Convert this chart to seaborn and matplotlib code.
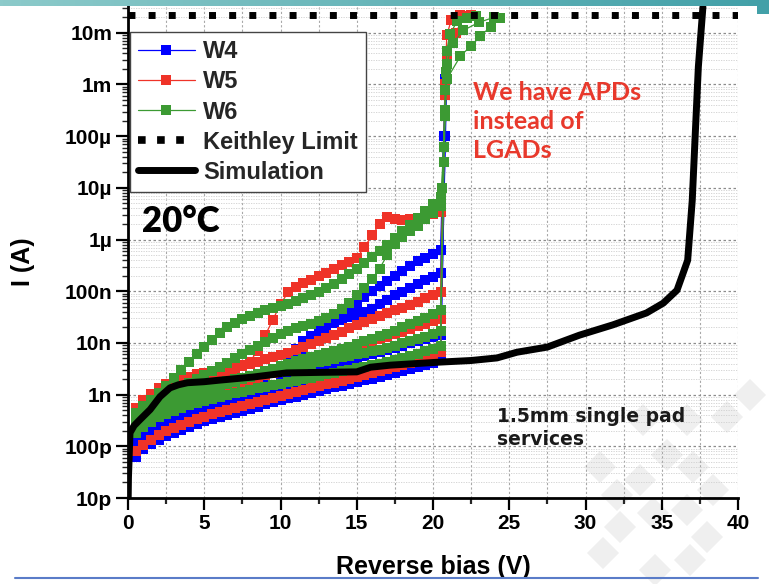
import numpy as np
import pandas as pd
import seaborn as sns
import matplotlib.pyplot as plt
from matplotlib.lines import Line2D
from matplotlib.patches import Polygon, Rectangle
from matplotlib.ticker import FixedLocator, FixedFormatter, MultipleLocator, LogLocator, NullFormatter

# ---------------------------------------------------------------- data
# Reverse-bias sweep points (V) shared by all measured pads
BIAS_V = [0.5, 1.0, 1.5, 2.0, 2.5, 3.0, 3.5, 4.0, 4.5, 5.0,
          5.5, 6.0, 6.5, 7.0, 7.5, 8.0, 8.5, 9.0, 9.5, 10.0,
          10.5, 11.0, 11.5, 12.0, 12.5, 13.0, 13.5, 14.0, 14.5, 15.0,
          15.5, 16.0, 16.5, 17.0, 17.5, 18.0, 18.5, 19.0, 19.5, 20.0,
          20.5]

# log10 of leakage current (A) per pad, before breakdown
W4_A = [-10.20, -10.05, -9.95, -9.87, -9.80, -9.74, -9.68, -9.62, -9.56, -9.51,
        -9.47, -9.43, -9.39, -9.35, -9.31, -9.27, -9.23, -9.19, -9.15, -9.11,
        -9.07, -9.04, -9.00, -8.97, -8.93, -8.90, -8.86, -8.83, -8.79, -8.76,
        -8.72, -8.69, -8.65, -8.62, -8.58, -8.55, -8.51, -8.47, -8.43, -8.38,
        -8.32]
W4_B = [-10.05, -9.88, -9.77, -9.69, -9.62, -9.56, -9.50, -9.44, -9.39, -9.34,
        -9.30, -9.26, -9.22, -9.18, -9.14, -9.10, -9.06, -9.02, -8.98, -8.94,
        -8.90, -8.86, -8.83, -8.79, -8.76, -8.72, -8.69, -8.65, -8.62, -8.58,
        -8.55, -8.51, -8.48, -8.44, -8.41, -8.37, -8.34, -8.30, -8.26, -8.21,
        -8.15]
W4_C = [-9.95, -9.80, -9.70, -9.62, -9.55, -9.49, -9.43, -9.38, -9.33, -9.28,
        -9.23, -9.18, -9.13, -9.07, -9.00, -8.92, -8.82, -8.70, -8.58, -8.46,
        -8.30, -8.12, -7.97, -7.86, -7.77, -7.69, -7.62, -7.56, -7.50, -7.45,
        -7.40, -7.34, -7.25, -7.16, -7.08, -7.01, -6.94, -6.86, -6.79, -6.72,
        -6.65]
W4_D = [-9.80, -9.68, -9.59, -9.51, -9.45, -9.39, -9.33, -9.27, -9.21, -9.15,
        -9.09, -9.03, -8.97, -8.91, -8.85, -8.79, -8.72, -8.64, -8.55, -8.45,
        -8.34, -8.23, -8.12, -8.01, -7.88, -7.75, -7.62, -7.50, -7.38, -7.26,
        -7.12, -7.00, -6.90, -6.80, -6.70, -6.60, -6.51, -6.42, -6.35, -6.28,
        -6.20]
W4_E = [-9.90, -9.78, -9.68, -9.60, -9.53, -9.47, -9.42, -9.37, -9.33, -9.29,
        -9.24, -9.19, -9.13, -9.07, -9.02, -8.97, -8.91, -8.86, -8.81, -8.75,
        -8.70, -8.66, -8.61, -8.57, -8.52, -8.48, -8.44, -8.39, -8.35, -8.30,
        -8.26, -8.22, -8.18, -8.14, -8.10, -8.05, -8.01, -7.97, -7.93, -7.89,
        -7.84]

W5_A = [-10.10, -9.97, -9.87, -9.78, -9.71, -9.65, -9.59, -9.53, -9.48, -9.43,
        -9.38, -9.34, -9.30, -9.26, -9.22, -9.18, -9.14, -9.10, -9.06, -9.02,
        -8.98, -8.94, -8.91, -8.87, -8.84, -8.80, -8.77, -8.73, -8.70, -8.66,
        -8.62, -8.59, -8.55, -8.51, -8.47, -8.43, -8.39, -8.35, -8.30, -8.25,
        -8.18]
W5_B = [-9.25, -9.10, -8.98, -8.88, -8.80, -8.74, -8.69, -8.65, -8.61, -8.58,
        -8.55, -8.52, -8.49, -8.46, -8.43, -8.40, -8.36, -8.32, -8.28, -8.24,
        -8.20, -8.14, -8.08, -8.02, -7.96, -7.90, -7.84, -7.78, -7.72, -7.66,
        -7.60, -7.54, -7.48, -7.42, -7.37, -7.32, -7.26, -7.20, -7.14, -7.08,
        -7.02]
W5_C = [-9.45, -9.30, -9.18, -9.08, -9.00, -8.94, -8.88, -8.83, -8.78, -8.73,
        -8.68, -8.63, -8.58, -8.52, -8.45, -8.36, -8.15, -7.85, -7.55, -7.25,
        -7.02, -6.92, -6.85, -6.78, -6.71, -6.64, -6.57, -6.50, -6.43, -6.36,
        -6.15, -5.92, -5.70, -5.57, -5.60, -5.63, -5.61, -5.58, -5.55, -5.51,
        -5.47]
W5_D = [-9.60, -9.46, -9.36, -9.28, -9.22, -9.17, -9.13, -9.09, -9.06, -9.03,
        -8.98, -8.93, -8.88, -8.83, -8.78, -8.73, -8.68, -8.63, -8.59, -8.55,
        -8.50, -8.45, -8.40, -8.36, -8.31, -8.27, -8.22, -8.18, -8.13, -8.08,
        -8.03, -7.98, -7.93, -7.88, -7.83, -7.78, -7.73, -7.68, -7.63, -7.58,
        -7.53]

W6_A = [-9.35, -9.22, -9.10, -8.97, -8.83, -8.68, -8.52, -8.37, -8.22, -8.08,
        -7.94, -7.80, -7.70, -7.61, -7.54, -7.48, -7.42, -7.37, -7.32, -7.28,
        -7.24, -7.19, -7.13, -7.07, -7.01, -6.94, -6.86, -6.77, -6.67, -6.57,
        -6.45, -6.34, -6.22, -6.10, -5.97, -5.84, -5.71, -5.58, -5.45, -5.31,
        -5.17]
W6_B = [-9.45, -9.32, -9.20, -9.10, -9.00, -8.92, -8.84, -8.77, -8.70, -8.62,
        -8.54, -8.46, -8.38, -8.30, -8.22, -8.14, -8.06, -7.98, -7.90, -7.82,
        -7.76, -7.71, -7.67, -7.63, -7.58, -7.52, -7.44, -7.34, -7.22, -7.08,
        -6.93, -6.76, -6.56, -6.30, -6.08, -5.95, -5.84, -5.73, -5.61, -5.48,
        -5.35]
W6_C = [-9.62, -9.48, -9.38, -9.29, -9.22, -9.16, -9.10, -9.05, -9.00, -8.95,
        -8.90, -8.85, -8.80, -8.75, -8.70, -8.65, -8.60, -8.55, -8.50, -8.45,
        -8.40, -8.35, -8.31, -8.27, -8.23, -8.19, -8.15, -8.11, -8.07, -8.02,
        -7.97, -7.92, -7.87, -7.82, -7.76, -7.70, -7.64, -7.58, -7.51, -7.44,
        -7.36]
W6_D = [-9.75, -9.62, -9.52, -9.44, -9.37, -9.31, -9.26, -9.21, -9.16, -9.12,
        -9.08, -9.04, -9.00, -8.97, -8.94, -8.91, -8.88, -8.85, -8.82, -8.79,
        -8.76, -8.73, -8.70, -8.67, -8.64, -8.61, -8.58, -8.55, -8.52, -8.49,
        -8.46, -8.43, -8.40, -8.37, -8.33, -8.29, -8.25, -8.21, -8.16, -8.11,
        -8.05]
W6_E = [-9.55, -9.40, -9.28, -9.18, -9.10, -9.04, -8.98, -8.93, -8.88, -8.84,
        -8.80, -8.76, -8.73, -8.70, -8.67, -8.64, -8.61, -8.58, -8.55, -8.52,
        -8.49, -8.46, -8.43, -8.40, -8.37, -8.34, -8.31, -8.28, -8.25, -8.22,
        -8.19, -8.16, -8.13, -8.09, -8.05, -8.01, -7.97, -7.93, -7.88, -7.83,
        -7.77]

# Breakdown tails: (bias V list, log10 current list) for each pad
W4_TAILS = [([20.8], [-4.0]), ([20.9], [-2.9]), ([20.7], [-4.0]),
            ([20.8], [-2.9]), ([20.7], [-4.0])]
W5_TAILS = [([20.7], [-4.5]),
            ([20.8, 20.9, 21.2, 21.8, 22.5], [-3.0, -2.05, -1.75, -1.66, -1.66]),
            ([20.7, 20.8, 20.9, 21.5, 22.0], [-4.5, -3.2, -2.55, -2.0, -1.68]),
            ([20.7], [-4.5])]
W6_TAILS = [([20.6, 20.8, 20.85, 20.9, 21.1, 21.6, 22.2, 22.8],
             [-5.0, -3.1, -2.75, -2.35, -2.03, -1.77, -1.72, -1.68]),
            ([20.8, 20.9, 21.8, 22.5, 23.1, 23.8, 24.4],
             [-3.6, -2.9, -2.45, -2.25, -2.06, -1.88, -1.72]),
            ([20.7, 20.9, 21.3, 22.0, 23.0, 24.0],
             [-4.2, -2.6, -2.2, -1.95, -1.8, -1.7]),
            ([20.7], [-4.5]),
            ([20.8], [-3.5])]

# TCAD simulation of the 1.5 mm single pad
SIM_V = [0.0, 0.03, 0.07, 0.13, 0.4, 0.8, 1.45, 2.1, 2.75, 3.3, 3.9, 5.0, 6.0,
         8.2, 10.4, 12.5, 15.0, 15.9, 17.2, 20.5, 22.5, 24.2, 25.5, 27.5, 29.6,
         31.8, 34.0, 35.1, 36.0, 36.4, 36.7, 37.0, 37.2, 37.4, 37.7]
SIM_LOGI = [-11.3, -10.6, -10.26, -9.74, -9.6, -9.48, -9.29, -9.04, -8.87, -8.81,
            -8.77, -8.75, -8.72, -8.66, -8.58, -8.57, -8.56, -8.47, -8.43, -8.37,
            -8.34, -8.29, -8.18, -8.08, -7.85, -7.65, -7.42, -7.23, -6.98, -6.65,
            -6.40, -5.24, -3.94, -2.66, -1.50]

KEITHLEY_LIMIT = 0.022  # A, compliance of the source-meter

WAFERS = ["W4", "W5", "W6"]
WAFER_COLORS = ["#0000ff", "#ef3328", "#3c9a33"]
Y_TICKS = [1e-11, 1e-10, 1e-9, 1e-8, 1e-7, 1e-6, 1e-5, 1e-4, 1e-3, 1e-2]
Y_TICK_LABELS = ["10p", "100p", "1n", "10n", "100n", "1µ", "10µ", "100µ", "1m", "10m"]
LEGEND_LABELS = ["W4", "W5", "W6", "Keithley Limit", "Simulation"]

# ---------------------------------------------------------------- tidy table
wafer_curves = {
    "W4": list(zip([W4_A, W4_B, W4_C, W4_D, W4_E], W4_TAILS)),
    "W5": list(zip([W5_A, W5_B, W5_C, W5_D], W5_TAILS)),
    "W6": list(zip([W6_A, W6_B, W6_C, W6_D, W6_E], W6_TAILS)),
}
rows = []
for wafer in WAFERS:
    for k, (logi, (tail_v, tail_l)) in enumerate(wafer_curves[wafer]):
        for v, l in zip(BIAS_V + tail_v, logi + tail_l):
            rows.append({"wafer": wafer, "pad": f"{wafer}-{k}", "V": v, "I": 10.0 ** l})
iv = pd.DataFrame(rows)
sim = pd.DataFrame({"V": SIM_V, "I": 10.0 ** np.array(SIM_LOGI)})

# ---------------------------------------------------------------- style
sns.set_theme(style="white")
plt.rcParams["font.family"] = ["Liberation Sans", "DejaVu Sans"]
plt.rcParams["font.weight"] = "bold"
plt.rcParams["axes.labelweight"] = "bold"

W, H = 769, 584
fig = plt.figure(figsize=(W / 100, H / 100), dpi=100)
fig.patch.set_facecolor("white")

# faint diamond watermark of the slide template (behind the plot)
DIAMONDS = [(643, 420), (687, 420), (727, 417), (600, 467), (640, 480), (667, 455),
            (693, 467), (713, 490), (620, 527), (653, 513), (687, 510), (707, 537),
            (603, 553), (690, 560), (617, 495), (655, 570), (750, 395)]
r = 16
for cx, cy in DIAMONDS:
    pts = [((cx - r) / W, 1 - cy / H), (cx / W, 1 - (cy - r) / H),
           ((cx + r) / W, 1 - cy / H), (cx / W, 1 - (cy + r) / H)]
    fig.patches.append(Polygon(pts, closed=True, transform=fig.transFigure,
                               facecolor="#efefef", edgecolor="none", zorder=-5))

ax = fig.add_axes([128 / W, 1 - 498 / H, 610 / W, 492 / H])
ax.set_facecolor("none")
ax.set_yscale("log")
ax.set_xlim(0, 40)
ax.set_ylim(1e-11, 0.033)

palette = dict(zip(WAFERS, WAFER_COLORS))
sns.lineplot(data=iv, x="V", y="I", hue="wafer", units="pad", estimator=None,
             sort=False, palette=palette, hue_order=WAFERS, marker="s",
             markersize=7.6, markeredgewidth=0, linewidth=0.9, legend=False,
             ax=ax, zorder=3)
sns.lineplot(data=sim, x="V", y="I", color="black", linewidth=5, sort=False,
             estimator=None, ax=ax, zorder=6, legend=False)
ax.axhline(KEITHLEY_LIMIT, color="black", linewidth=5, linestyle=(0, (1, 1.9)),
           zorder=7)

# ---------------------------------------------------------------- axes
for side in ["top", "right"]:
    ax.spines[side].set_visible(False)
for side in ["left", "bottom"]:
    ax.spines[side].set_color("black")
    ax.spines[side].set_linewidth(2)

ax.xaxis.set_major_locator(MultipleLocator(5))
ax.xaxis.set_minor_locator(MultipleLocator(2.5))
ax.yaxis.set_major_locator(FixedLocator(Y_TICKS))
ax.yaxis.set_major_formatter(FixedFormatter(Y_TICK_LABELS))
ax.yaxis.set_minor_locator(LogLocator(base=10, subs=np.arange(2, 10), numticks=30))
ax.yaxis.set_minor_formatter(NullFormatter())

ax.tick_params(axis="both", which="major", direction="out", length=8.5, width=1.6,
               labelsize=15, pad=3, color="black", labelcolor="black",
               bottom=True, left=True)
ax.tick_params(axis="x", which="minor", direction="out", length=4.5, width=1.6,
               bottom=True)
ax.tick_params(axis="y", which="minor", direction="out", length=4, width=1.0,
               left=True)
for lab in ax.get_xticklabels() + ax.get_yticklabels():
    lab.set_fontweight("bold")

ax.grid(which="major", axis="x", color="#a8a8a8", linewidth=0.8, linestyle=(0, (2, 2)))
ax.grid(which="minor", axis="x", color="#a8a8a8", linewidth=0.8, linestyle=(0, (2, 2)))
ax.grid(which="major", axis="y", color="#8c8c8c", linewidth=0.9, linestyle=(0, (2, 2)))
ax.grid(which="minor", axis="y", color="#cfcfcf", linewidth=0.6, linestyle=(0, (1.5, 1.5)))
ax.set_axisbelow(True)

ax.set_xlabel("Reverse bias (V)", fontsize=18, fontweight="bold", color="black")
ax.set_ylabel("I (A)", fontsize=18, fontweight="bold", color="black")
ax.xaxis.set_label_coords(0.5, -0.115)
ax.yaxis.set_label_coords(-0.152, 0.48)

# ---------------------------------------------------------------- legend
handles = [Line2D([], [], color=c, linewidth=0.9, marker="s", markersize=7.5,
                  markeredgewidth=0) for c in WAFER_COLORS]
handles.append(Line2D([], [], color="black", linewidth=5.5, linestyle=(0, (1, 1.5))))
handles.append(Line2D([], [], color="black", linewidth=5))
leg = ax.legend(handles, LEGEND_LABELS, loc="upper left",
                bbox_to_anchor=(0.003, 0.947), borderaxespad=0, frameon=True,
                fancybox=False, framealpha=1, edgecolor="#444444",
                prop={"family": "Liberation Sans", "weight": "bold", "size": 17},
                handlelength=2.4, handletextpad=0.35, labelspacing=0.3,
                borderpad=0.35)
leg.get_frame().set_linewidth(1.0)
leg.set_zorder(10)

# ---------------------------------------------------------------- annotations
ax.text(0.023, 0.563, "20°C", transform=ax.transAxes, ha="left", va="center",
        fontsize=25, fontweight="heavy", family=["Lato", "DejaVu Sans"], color="black")
ax.text(0.566, 0.765, "We have APDs\ninstead of\nLGADs", transform=ax.transAxes,
        ha="left", va="center", fontsize=18, fontweight="bold",
        family=["Lato", "DejaVu Sans"], color="#e8392c", linespacing=1.3)
ax.text(0.605, 0.142, "1.5mm single pad\nservices", transform=ax.transAxes,
        ha="left", va="center", fontsize=13.5, fontweight="bold",
        family=["DejaVu Sans"], color="#1a1a1a", linespacing=1.25)

# ---------------------------------------------------------------- slide frame
grad = np.linspace(0, 1, 256).reshape(1, -1)
bar = fig.add_axes([0, 1 - 6 / H, 1, 6 / H], zorder=20)
bar.imshow(grad, aspect="auto", extent=(0, 1, 0, 1),
           cmap=sns.blend_palette(["#8ccaca", "#42a0a8"], as_cmap=True))
bar.set_axis_off()
fig.patches.append(Rectangle((757 / W, 1 - 14 / H), 12 / W, 14 / H,
                             transform=fig.transFigure, facecolor="#42a0a8",
                             edgecolor="none", zorder=25))
fig.lines.append(Line2D([15 / W, 758 / W], [1 - 578 / H, 1 - 578 / H],
                        transform=fig.transFigure, color="#5a7cc8", linewidth=1.5))

fig.savefig("out.png", dpi=100, facecolor="white")
